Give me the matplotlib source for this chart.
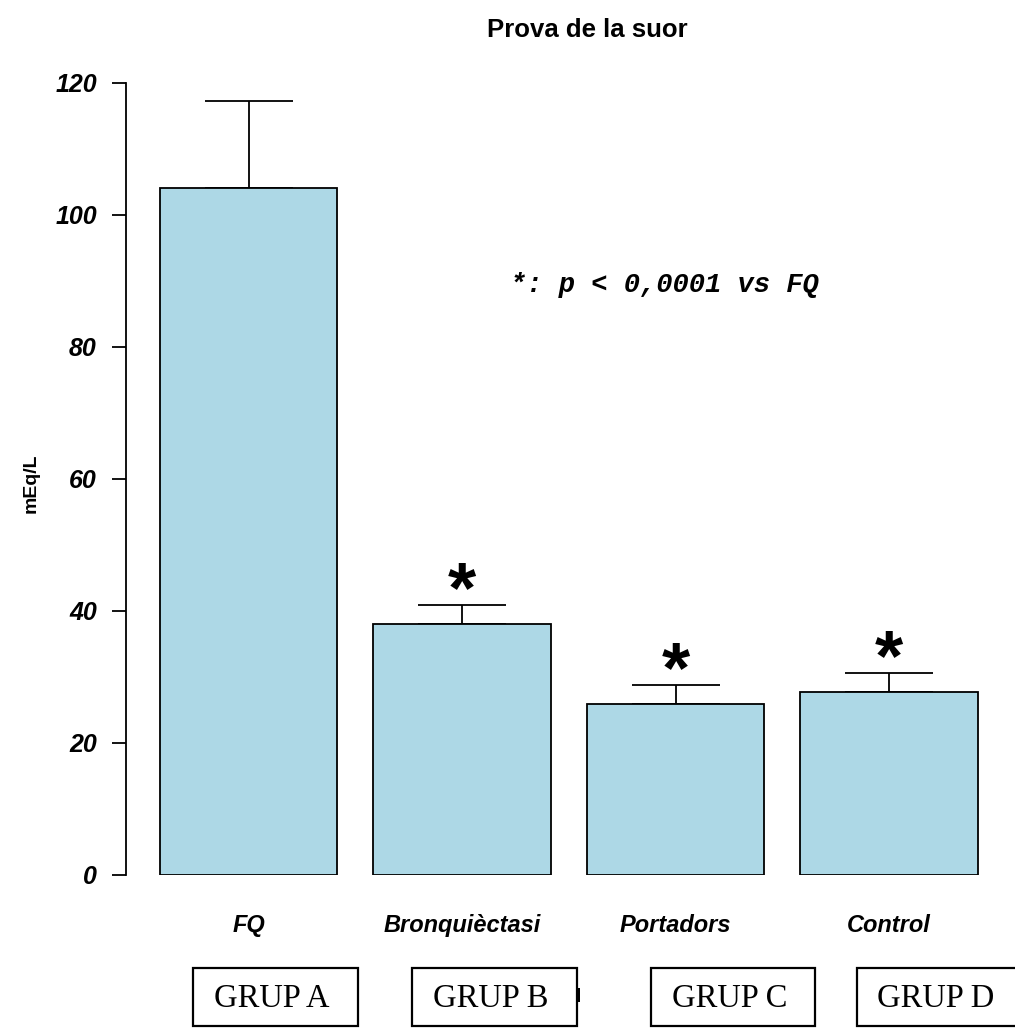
import matplotlib.pyplot as plt
from matplotlib.patches import Rectangle

# values
groups = ['FQ', 'Bronquièctasi', 'Portadors', 'Control']
means = [104.1, 38.0, 25.9, 27.7]
sem = [13.2, 2.9, 2.9, 2.9]
signif = [False, True, True, True]
group_boxes = ['GRUP A', 'GRUP B', 'GRUP C', 'GRUP D']

W, H = 1015, 1028
fig = plt.figure(figsize=(W / 100, H / 100), dpi=100)
ax = fig.add_axes([126 / W, 1 - 875 / H, (1000 - 126) / W, (875 - 83) / H])

x = range(len(groups))
ax.bar(x, means, width=0.83, color='#ADD8E6', edgecolor='black', linewidth=1.3, zorder=2)
ax.errorbar(x, means, yerr=[[0] * len(sem), sem], fmt='none', ecolor='black',
            elinewidth=1.3, capsize=31.5, capthick=1.3, zorder=1)

# significance stars just above the error bars
for i, m in enumerate(means):
    if signif[i]:
        ax.annotate('*', xy=(i, m + sem[i]), xytext=(0, -16), textcoords='offset points',
                    ha='center', va='bottom', fontsize=52,
                    family='Liberation Sans', fontweight='bold')

ax.set_xlim(-0.574, 3.52)
ax.set_ylim(0, 120)
ax.set_yticks(range(0, 121, 20))
ax.set_xticks(list(x))
ax.set_xticklabels(groups, fontsize=17, fontweight='bold', style='italic', family='Liberation Sans')
for lab in ax.get_yticklabels():
    lab.set_fontsize(18)
    lab.set_fontweight('bold')
    lab.set_style('italic')
    lab.set_family('Liberation Sans')
ax.tick_params(axis='y', length=10, width=1.3, pad=11)
ax.tick_params(axis='x', length=0, pad=28)
for s in ['top', 'right', 'bottom']:
    ax.spines[s].set_visible(False)
ax.spines['left'].set_linewidth(1.3)

fig.text(587 / W, 1 - 30 / H, 'Prova de la suor', ha='center', va='center',
         fontsize=18.5, fontweight='bold', family='Liberation Sans')
fig.text(31 / W, 1 - 483 / H, 'mEq/L', ha='center', va='center', rotation=90,
         fontsize=14, fontweight='bold', family='Liberation Sans')
fig.text(510 / W, 1 - 285 / H, '*: p < 0,0001 vs FQ', ha='left', va='center',
         fontsize=19.5, fontweight='bold', style='italic', family='Liberation Mono')

# boxes below the axis
box_x = [(193, 358), (412, 577), (651, 815), (857, 1030)]
for (x0, x1), name in zip(box_x, group_boxes):
    y0, y1 = 968, 1026
    fig.patches.append(Rectangle((x0 / W, 1 - y1 / H), (x1 - x0) / W, (y1 - y0) / H,
                                 transform=fig.transFigure, facecolor='white',
                                 edgecolor='black', linewidth=1.6))
    fig.text((x0 + 79) / W, 1 - 1007 / H, name, ha='center', va='baseline',
             fontsize=23.5, family='Liberation Serif')
fig.patches.append(Rectangle((577 / W, 1 - 1002 / H), 3 / W, 14 / H,
                             transform=fig.transFigure, facecolor='black', edgecolor='none'))

fig.savefig('out.png', dpi=100)
